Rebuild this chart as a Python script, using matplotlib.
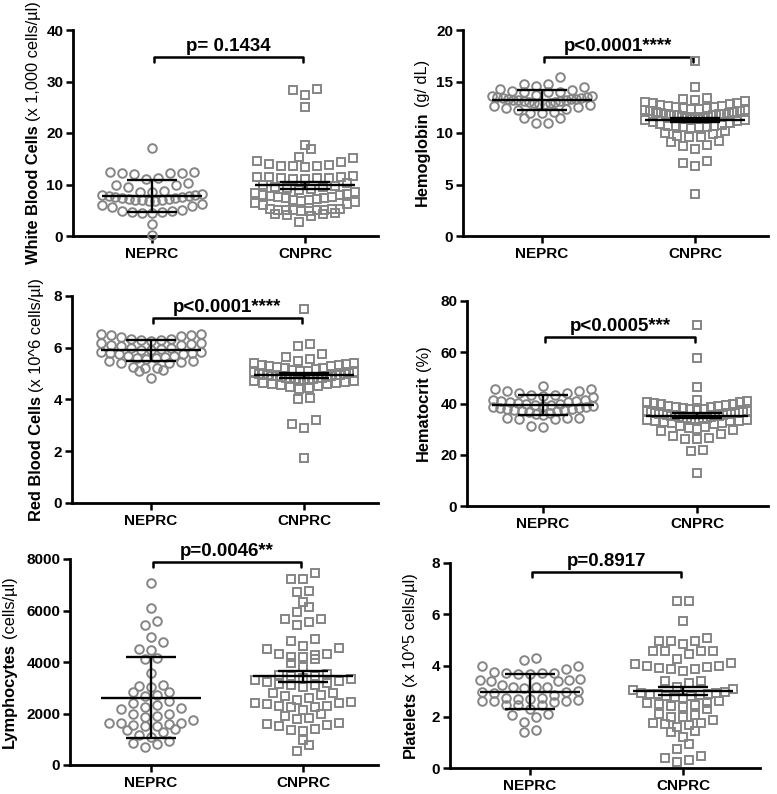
import numpy as np
import matplotlib
matplotlib.use('Agg')
import matplotlib.pyplot as plt

plt.rcParams['font.family'] = ['Liberation Sans', 'DejaVu Sans']
plt.rcParams['font.weight'] = 'bold'

groups = ['NEPRC', 'CNPRC']

# ---------------- data ----------------
wbc_neprc = [17, 12.5, 12.3, 12.2, 12.0, 12.3, 12.5, 11.0, 11.2, 10.2, 9.9, 9.6, 10.0,
             8.8, 8.6, 8.5, 8.2, 8.0, 7.9, 7.8, 7.7, 7.6, 7.5, 7.4, 7.3, 7.2, 7.1, 7.0,
             7.0, 6.9, 6.8, 6.7, 6.0, 6.2, 5.8, 5.6, 5.0, 4.8, 4.6, 4.5, 4.5, 4.7, 4.9,
             2.3, 0.1]
wbc_cnprc = [28.6, 28.4, 27.3, 25.0, 17.6, 16.8, 15.3, 15.1, 14.5, 14.4, 14.0, 13.8,
             13.6, 13.5, 13.4, 13.6, 11.6, 11.5, 11.4, 11.3, 11.2, 11.1, 11.0, 11.5,
             11.3, 10.2, 10.0, 9.8, 9.6, 9.5, 9.3, 9.2, 9.0, 8.5, 8.3, 8.1, 8.0, 7.9,
             7.8, 7.6, 7.5, 7.4, 7.3, 7.2, 7.0, 6.9, 6.8, 6.6, 6.4, 6.2, 6.0, 5.3, 5.2,
             5.1, 5.0, 5.0, 4.9, 5.2, 5.1, 5.0, 4.9, 4.5, 4.3, 4.2, 4.0, 3.8, 2.8]
wbc_mean = [7.8, 9.85]
wbc_err = [3.1, 0.7]

hgb_neprc = [15.4, 14.8, 14.8, 14.6, 14.5, 14.3, 14.2, 14.1, 14.0, 14.0, 14.0,
             13.7, 13.6, 13.6, 13.5, 13.5, 13.4, 13.4, 13.3, 13.3, 13.3, 13.2, 13.2,
             13.2, 13.1, 13.1, 13.0, 13.0, 12.9, 12.9, 12.8, 12.8, 12.7, 12.6, 12.5,
             12.4, 12.3, 12.2, 11.9, 11.9, 11.5, 11.5, 11.0, 11.0, 12.0]
hgb_cnprc = [17.0, 14.5, 13.4, 13.3, 13.2, 13.1, 13.0, 12.9, 12.9, 12.8, 12.7, 12.6,
             12.6, 12.5, 12.5, 12.4, 12.4, 12.3, 12.3, 12.2, 12.2, 12.1, 12.1, 12.0,
             12.0, 11.9, 11.9, 11.8, 11.8, 11.8, 11.7, 11.7, 11.7, 11.6, 11.6, 11.5,
             11.5, 11.4, 11.4, 11.3, 11.3, 11.2, 11.1, 11.0, 10.8, 10.7, 10.7, 10.7,
             10.6, 10.6, 10.6, 10.5, 10.9, 10.2, 10.0, 9.9, 9.7, 9.6, 9.6, 9.1, 9.2,
             8.8, 8.7, 8.4, 7.3, 7.1, 6.8, 4.1]
hgb_mean = [13.2, 11.3]
hgb_err = [0.95, 0.2]

rbc_neprc = [6.55, 6.5, 6.5, 6.45, 6.55, 6.4, 6.35, 6.35, 6.3, 6.3, 6.25, 6.2, 6.2,
             6.15, 6.1, 6.1, 6.05, 6.0, 6.0, 5.95, 5.9, 5.9, 5.85, 5.85, 5.8, 5.8,
             5.75, 5.75, 5.7, 5.7, 5.65, 5.6, 5.6, 5.55, 5.5, 5.5, 5.45, 5.4, 5.4,
             5.2, 5.2, 5.25, 5.15, 5.1, 4.85]
rbc_cnprc = [7.5, 6.15, 6.05, 5.75, 5.65, 5.55, 5.5, 5.42, 5.4, 5.38, 5.35, 5.33, 5.3,
             5.28, 5.25, 5.22, 5.2, 5.18, 5.15, 5.12, 5.1, 5.08, 5.05, 5.03, 5.0, 5.0,
             4.98, 4.96, 4.95, 4.93, 4.92, 4.9, 4.9, 4.88, 4.87, 4.85, 4.85, 4.83,
             4.82, 4.8, 4.8, 4.78, 4.76, 4.75, 4.72, 4.7, 4.68, 4.65, 4.62, 4.6, 4.58,
             4.55, 4.52, 4.5, 4.45, 4.4, 4.02, 4.05, 3.2, 3.05, 2.9, 1.72]
rbc_mean = [5.9, 4.94]
rbc_err = [0.4, 0.1]

hct_neprc = [46.8, 45.7, 45.5, 45.0, 44.8, 44.2, 44.0, 43.5, 43.3, 42.8, 42.5,
             41.5, 41.2, 41.0, 40.8, 40.6, 40.4, 40.2, 40.0, 39.8, 39.6, 39.4, 39.2,
             39.0, 38.8, 38.6, 38.4, 38.2, 38.0, 37.8, 37.6, 37.4, 37.2, 37.0, 36.2,
             35.9, 35.5, 34.5, 34.2, 34.0, 34.3, 33.8, 31.3, 31.0, 36.5]
hct_cnprc = [70.5, 57.6, 46.6, 41.4, 41.0, 40.7, 40.5, 40.3, 40.0, 39.8, 39.5, 39.2,
             39.0, 38.8, 38.5, 38.2, 38.0, 37.8, 37.5, 37.2, 37.0, 36.8, 36.5, 36.2,
             36.0, 35.8, 35.5, 35.3, 35.0, 34.8, 34.5, 34.2, 34.0, 33.8, 33.5, 33.2,
             33.0, 32.8, 32.5, 32.2, 32.0, 31.3, 31.0, 30.3, 30.0, 29.5, 29.3, 28.0,
             27.5, 26.5, 26.3, 26.0, 22.0, 21.6, 13.0, 36.5, 36.0, 35.5, 35.0, 34.5,
             34.0, 33.5, 33.0, 35.2, 35.8, 36.3, 34.7, 34.2]
hct_mean = [39.5, 35.2]
hct_err = [4.0, 0.9]

lym_neprc = [7080, 6110, 5440, 5590, 4980, 4790, 4470, 4490, 4100, 4140, 3590, 3070,
             3090, 2820, 2820, 3030, 2720, 2680, 2420, 2330, 2470, 2260, 2160, 2200,
             1980, 1900, 1760, 1860, 1970, 1640, 1620, 1560, 1500, 1290, 1360, 1530,
             1580, 1620, 1100, 1160, 840, 710, 815, 940, 1400]
lym_cnprc = [7440, 7210, 7210, 6730, 6750, 6340, 6150, 5930, 5660, 5660, 5440, 5560,
             4815, 4910, 4620, 4490, 4530, 4310, 4200, 4120, 4200, 4290, 4310, 3970,
             3820, 3456, 3500, 3450, 3520, 3380, 3235, 3150, 3100, 3120, 3180, 3250,
             3300, 3350, 2810, 2690, 2720, 2810, 2370, 2290, 2250, 2450, 2400, 2530,
             2260, 2280, 2410, 1810, 1580, 1500, 1360, 1330, 1400, 1560, 1645, 1790,
             970, 555, 777, 2600, 2150, 3030, 2000, 1900]
lym_mean = [2620, 3450]
lym_err = [1560, 210]

plt_neprc = [4.28, 4.21, 3.98, 3.97, 3.85, 3.7, 3.68, 3.72, 3.66, 3.7, 3.74, 3.46,
             3.42, 3.38, 3.4, 3.44, 3.17, 3.15, 3.12, 3.18, 3.25, 2.94, 2.98, 2.96,
             3.0, 2.7, 2.72, 2.62, 2.6, 2.58, 2.6, 2.64, 2.68, 2.75, 2.85, 2.46, 2.44,
             2.47, 2.3, 2.07, 2.0, 2.1, 1.81, 1.42, 1.48]
plt_cnprc = [6.52, 6.52, 5.75, 5.08, 4.95, 4.85, 4.95, 4.95, 4.58, 4.55, 4.43, 4.55,
             4.55, 4.24, 4.08, 4.0, 3.95, 3.85, 3.8, 3.85, 3.92, 4.0, 4.07, 3.41, 3.41,
             3.3, 3.17, 3.1, 3.05, 2.95, 2.92, 2.9, 2.88, 2.85, 2.82, 2.8, 2.78, 2.75,
             2.9, 2.92, 2.52, 2.48, 2.42, 2.38, 2.45, 2.3, 2.07, 2.12, 2.0, 2.0, 1.77,
             1.72, 1.77, 1.87, 1.59, 1.42, 1.45, 1.67, 1.22, 0.94, 0.73, 0.38, 0.25,
             0.3, 0.45, 2.6, 2.55]
plt_mean = [2.98, 3.02]
plt_err = [0.69, 0.16]

label_bold = ['White Blood Cells', 'Hemoglobin', 'Red Blood Cells', 'Hematocrit',
              'Lymphocytes', 'Platelets']
label_regular = ['(x 1,000 cells/\u00b5l)', '(g/ dL)', '(x 10^6 cells/\u00b5l)', '(%)',
                 '(cells/\u00b5l)', '(x 10^5 cells/\u00b5l)']
p_texts = ['p= 0.1434', 'p<0.0001****', 'p<0.0001****', 'p<0.0005***',
           'p=0.0046**', 'p=0.8917']
yticks_list = [[0, 10, 20, 30, 40], [0, 5, 10, 15, 20], [0, 2, 4, 6, 8],
               [0, 20, 40, 60, 80], [0, 2000, 4000, 6000, 8000], [0, 2, 4, 6, 8]]

# ---------------- layout (pixels) ----------------
W, H = 777, 794
# left, top, right, bottom, cat0 x, cat1 x, ylabel baseline x
layout = [
    (73, 30, 378, 236, 152, 305, 38),
    (463, 30, 768, 236, 542, 695, 427),
    (72, 296, 378, 503, 151, 304, 41),
    (467, 301, 768, 506, 543, 697, 428),
    (70, 559, 378, 765, 151, 303, 14),
    (450, 563, 760, 768, 530, 683, 415),
]
bracket_y = [34.8, 17.4, 7.14, 66, 7880, 7.65]

GRAY = '#858585'
panels = [
    (wbc_neprc, wbc_cnprc, wbc_mean, wbc_err),
    (hgb_neprc, hgb_cnprc, hgb_mean, hgb_err),
    (rbc_neprc, rbc_cnprc, rbc_mean, rbc_err),
    (hct_neprc, hct_cnprc, hct_mean, hct_err),
    (lym_neprc, lym_cnprc, lym_mean, lym_err),
    (plt_neprc, plt_cnprc, plt_mean, plt_err),
]

fig = plt.figure(figsize=(W / 100, H / 100), dpi=100)
renderer = fig.canvas.get_renderer()


def row_layout(values, ax, s_px=12.0, h_px=9.0, maxw_px=50.0):
    vals = np.asarray(values, float)
    p0 = ax.transData.transform((0, 0))
    p1 = ax.transData.transform((1, 1))
    xpu = p1[0] - p0[0]
    ypu = p1[1] - p0[1]
    order = np.argsort(vals, kind='stable')
    ys = vals[order]
    xs = np.zeros_like(ys)
    rows, cur = [], [0]
    for i in range(1, len(ys)):
        if (ys[i] - ys[cur[0]]) * ypu > h_px:
            rows.append(cur)
            cur = [i]
        else:
            cur.append(i)
    rows.append(cur)
    for r in rows:
        n = len(r)
        s = s_px if n <= 1 else min(s_px, 2 * maxw_px / (n - 1))
        slots = (np.arange(n) - (n - 1) / 2) * s
        slot_order = sorted(range(n), key=lambda k: (round(abs(slots[k]), 6), slots[k]))
        for idx, k in zip(r, slot_order):
            xs[idx] = slots[k] / xpu
    return xs, ys


for i, ((a, b, means, errs), lay) in enumerate(zip(panels, layout)):
    l, t, r, bt, c0, c1, lx = lay
    ax = fig.add_axes([l / W, 1 - bt / H, (r - l) / W, (bt - t) / H])
    unit = c1 - c0
    ax.set_xlim((l - c0) / unit, (r - c0) / unit)
    yt = yticks_list[i]
    ax.set_ylim(yt[0], yt[-1])

    for pos, vals, mk, ms in [(0, a, 'o', 6.2), (1, b, 's', 5.6)]:
        dx, ys = row_layout(vals, ax)
        ax.plot(pos + dx, ys, linestyle='none', marker=mk, ms=ms, mfc='none',
                mec=GRAY, mew=1.4, clip_on=False, zorder=3)

    for pos in (0, 1):
        m, e = means[pos], errs[pos]
        kw = dict(color='black', lw=1.7, solid_capstyle='butt', zorder=5, clip_on=False)
        ax.plot([pos - 0.33, pos + 0.33], [m, m], **kw)
        ax.plot([pos, pos], [m - e, m + e], **kw)
        ax.plot([pos - 0.165, pos + 0.165], [m + e, m + e], **kw)
        ax.plot([pos - 0.165, pos + 0.165], [m - e, m - e], **kw)

    # significance bracket
    yb = bracket_y[i]
    drop = (yt[-1] - yt[0]) / (bt - t) * 5
    ax.plot([0.01, 0.01, 0.99, 0.99], [yb - drop, yb, yb, yb - drop], color='black',
            lw=1.8, clip_on=False, solid_joinstyle='round', solid_capstyle='round')
    ax.annotate(p_texts[i], xy=(0.5, yb), xytext=(0, 1.5), textcoords='offset points',
                ha='center', va='bottom', fontsize=13.5, fontweight='bold',
                annotation_clip=False)

    ax.spines['top'].set_visible(False)
    ax.spines['right'].set_visible(False)
    ax.spines['left'].set_linewidth(2)
    ax.spines['bottom'].set_linewidth(2)
    ax.set_yticks(yt)
    ax.set_yticklabels([str(v) for v in yt])
    ax.set_xticks([0, 1])
    ax.set_xticklabels(groups)
    ax.tick_params(direction='out', length=5, width=1.8, labelsize=11, pad=2)
    ax.tick_params(axis='x', pad=3)
    for lab in ax.get_xticklabels() + ax.get_yticklabels():
        lab.set_fontweight('bold')

    # two-part y label (bold name + regular unit)
    size = 11.8
    yc = H - (t + bt) / 2
    t1 = fig.text(lx / W, 0, label_bold[i], rotation=90, rotation_mode='anchor',
                  ha='left', va='baseline', fontsize=size, fontweight='bold')
    t2 = fig.text(lx / W, 0, label_regular[i], rotation=90, rotation_mode='anchor',
                  ha='left', va='baseline', fontsize=size, fontweight='normal')
    L1 = t1.get_window_extent(renderer).height
    L2 = t2.get_window_extent(renderer).height
    gap = size * 100 / 72 * 0.28
    y0 = yc - (L1 + gap + L2) / 2
    t1.set_position((lx / W, y0 / H))
    t2.set_position((lx / W, (y0 + L1 + gap) / H))

fig.savefig('out.png', dpi=100)
